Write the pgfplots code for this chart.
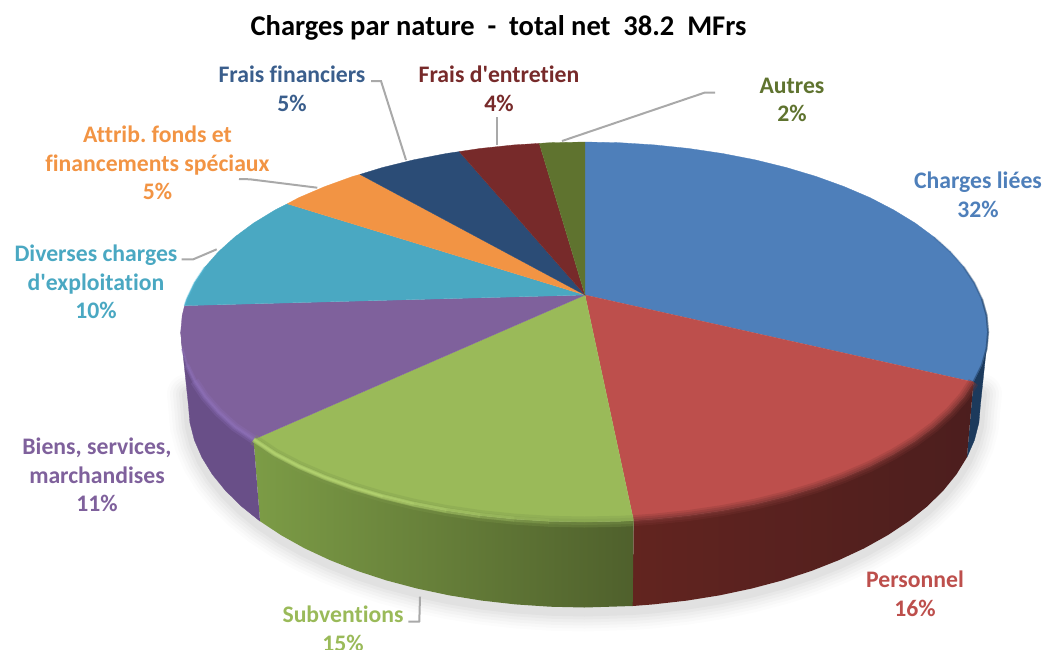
\documentclass[border=0pt]{standalone}
\usepackage{fontspec}
\setmainfont{Carlito}[Ligatures={TeXOff,NoCommon}]
\usepackage{pgfplots}
\usepackage{pgfplotstable}
\pgfplotsset{compat=1.18}
\definecolor{cblue}{HTML}{4E7FBA}
\definecolor{cred}{HTML}{BD4F4C}
\definecolor{cgreen}{HTML}{9ABA59}
\definecolor{cpurple}{HTML}{7F619C}
\definecolor{cteal}{HTML}{4AA8C2}
\definecolor{corange}{HTML}{F29444}
\definecolor{cnavy}{HTML}{2B4C76}
\definecolor{cdred}{HTML}{772A2A}
\definecolor{colive}{HTML}{5F732F}
\definecolor{lead}{HTML}{A9A9A9}
\definecolor{sblue}{HTML}{1C3A5C}
\definecolor{spurple}{HTML}{694F88}
\definecolor{sgreenA}{HTML}{7C9C46}
\definecolor{sgreenB}{HTML}{6A853D}
\definecolor{sgreenC}{HTML}{4F602C}
\definecolor{sredA}{HTML}{62241F}
\definecolor{sredB}{HTML}{4C1E1E}
\definecolor{rlime}{HTML}{C2E27A}
\definecolor{rmid}{HTML}{7F9A4C}
\definecolor{rred}{HTML}{7E3634}
\definecolor{rpurple}{HTML}{8F72BC}
\definecolor{rteal}{HTML}{52BEDC}
\definecolor{tnavyl}{HTML}{3A5E8C}
\tikzset{lbl/.style={font=\fontsize{23.7}{28.7}\selectfont\bfseries,align=center,anchor=center,inner sep=0pt}}
% top surface slices: first row is the apex
\pgfplotstableread{
x y
585 295
585 142
619.6 142.7
654.5 144.9
688.9 148.5
722.5 153.5
755 159.8
786.3 167.5
816 176.4
843.9 186.5
869.9 197.6
893.6 209.9
915.1 223
934 237
950.3 251.7
963.8 267
974.3 282.8
982 299
986.6 315.4
988.1 332
986.6 348.6
982 365
973.5 382
}\tblue
\pgfplotstableread{
x y
585 295
973.5 382
963.8 397
950.3 412.3
934 427
915.1 441
893.6 454.1
869.9 466.4
843.9 477.5
816 487.6
786.3 496.5
755 504.2
722.5 510.5
688.9 515.5
654.5 519.1
633.6 520.6
}\tred
\pgfplotstableread{
x y
585 295
633.6 520.6
619.6 521.3
584.4 522
549.2 521.3
514.3 519.1
479.9 515.5
446.3 510.5
413.8 504.2
382.5 496.5
352.8 487.6
324.9 477.5
298.9 466.4
275.2 454.1
253.5 439.5
}\tgreen
\pgfplotstableread{
x y
585 295
253.5 439.5
234.8 427
218.5 412.3
205 397
194.5 381.2
186.8 365
182.2 348.6
180.7 332
182.2 315.4
184.6 305.6
}\tpurple
\pgfplotstableread{
x y
585 295
184.6 305.6
186.8 299
194.5 282.8
205 267
218.5 251.7
234.8 237
253.7 223
275.2 209.9
287.3 203.8
}\tteal
\pgfplotstableread{
x y
585 295
287.3 203.8
298.9 197.6
324.9 186.5
352.8 176.4
360 174.4
}\torange
\pgfplotstableread{
x y
585 295
360 174.4
382.5 167.5
413.8 159.8
446.3 153.5
459.3 151.6
}\tnavy
\pgfplotstableread{
x y
585 295
459.3 151.6
479.9 148.5
514.3 144.9
539.3 143.4
}\tdred
\pgfplotstableread{
x y
585 295
539.3 143.4
549.2 142.7
585 142
}\tolive
% side walls
\pgfplotstableread{
x y
973.5 382
982 365
986.6 348.6
988.1 332
980.4 405
978.9 422.7
974.4 440.2
966.9 457.4
}\sblue
\pgfplotstableread{
x y
973.5 382
963.8 397
950.3 412.3
934 427
915.1 441
893.6 454.1
869.9 466.4
843.9 477.5
816 487.6
786.3 496.5
755 504.2
722.5 510.5
688.9 515.5
654.5 519.1
633.6 520.6
632.7 606
653.1 604.4
686.9 600.6
719.8 595.3
751.8 588.5
782.4 580.4
811.5 570.9
838.9 560.1
864.4 548.2
887.7 535.2
908.8 521.2
927.3 506.3
943.3 490.6
956.5 474.3
966.9 457.4
}\sred
\pgfplotstableread{
x y
633.6 520.6
619.6 521.3
584.4 522
549.2 521.3
514.3 519.1
479.9 515.5
446.3 510.5
413.8 504.2
382.5 496.5
352.8 487.6
324.9 477.5
298.9 466.4
275.2 454.1
253.5 439.5
260 521.2
281.1 535.2
304.4 548.2
329.9 560.1
357.3 570.9
386.4 580.4
417 588.5
449 595.3
481.9 600.6
515.6 604.4
549.9 606.7
584.4 607.5
632.7 606
}\sgreen
\pgfplotstableread{
x y
253.5 439.5
234.8 427
218.5 412.3
205 397
194.5 381.2
186.8 365
182.2 348.6
180.7 332
188.4 405
189.9 422.7
194.4 440.2
201.9 457.4
212.3 474.3
225.5 490.6
241.5 506.3
260 521.2
}\spurple
% outline of the underside, for the soft shadow
\pgfplotstableread{
x y
187 390
188.4 405
189.9 422.7
194.4 440.2
201.9 457.4
212.3 474.3
225.5 490.6
241.5 506.3
260 521.2
281.1 535.2
304.4 548.2
329.9 560.1
357.3 570.9
386.4 580.4
417 588.5
449 595.3
481.9 600.6
515.6 604.4
549.9 606.7
584.4 607.5
632.7 606
653.1 604.4
686.9 600.6
719.8 595.3
751.8 588.5
782.4 580.4
811.5 570.9
838.9 560.1
864.4 548.2
887.7 535.2
908.8 521.2
927.3 506.3
943.3 490.6
956.5 474.3
966.9 457.4
974.4 440.2
978.9 422.7
980.4 405
982 390
}\sshadow
\begin{document}
\begin{tikzpicture}
\clip (0,0) rectangle (1045pt,649pt);
\begin{axis}[at={(0,0)},anchor=south west,scale only axis,hide axis,
  x=1pt,y=1pt,y dir=reverse,xmin=0,xmax=1045,ymin=0,ymax=649,clip=false,
  every axis plot/.append style={line join=round,line cap=butt},
  noapex/.style={skip coords between index={0}{1}},
  wall/.style={draw=none,shade},
  rim/.style={fill=none,draw=#1},
  shad/.style={draw=black,fill=none,line cap=round,yshift=-4pt}]
% shadow
\addplot[shad,line width=40pt,opacity=0.012] table {\sshadow};
\addplot[shad,line width=34pt,opacity=0.015] table {\sshadow};
\addplot[shad,line width=28pt,opacity=0.018] table {\sshadow};
\addplot[shad,line width=22pt,opacity=0.02] table {\sshadow};
\addplot[shad,line width=16pt,opacity=0.025] table {\sshadow};
\addplot[shad,line width=10pt,opacity=0.03] table {\sshadow};
% side walls
\addplot[draw=sblue,line width=.3pt,fill=sblue] table {\sblue};
\addplot[wall,left color=sredA,right color=sredB] table {\sred};
\addplot[wall,left color=sgreenA,middle color=sgreenB,right color=sgreenC] table {\sgreen};
\addplot[draw=spurple,line width=.3pt,fill=spurple] table {\spurple};
% top slices
\addplot[draw=cblue,line width=.3pt,fill=cblue] table {\tblue};
\addplot[draw=cred,line width=.3pt,fill=cred] table {\tred};
\addplot[draw=cgreen,line width=.3pt,fill=cgreen] table {\tgreen};
\addplot[draw=cpurple,line width=.3pt,fill=cpurple] table {\tpurple};
\addplot[draw=cteal,line width=.3pt,fill=cteal] table {\tteal};
\addplot[draw=corange,line width=.3pt,fill=corange] table {\torange};
\addplot[draw=cnavy,line width=.3pt,fill=cnavy] table {\tnavy};
\addplot[draw=cdred,line width=.3pt,fill=cdred] table {\tdred};
\addplot[draw=colive,line width=.3pt,fill=colive] table {\tolive};
% bevelled rim: blue
\addplot[rim=sblue,line width=2pt,opacity=.15,skip coords between index={0}{13}] table {\tblue};
\addplot[rim=sblue,line width=2pt,opacity=.2,skip coords between index={0}{15}] table {\tblue};
\addplot[rim=sblue,line width=2pt,opacity=.3,skip coords between index={0}{17}] table {\tblue};
% red
\addplot[rim=rred,line width=11pt,opacity=.25,noapex] table {\tred};
\addplot[rim=rred,line width=7pt,opacity=.35,noapex] table {\tred};
\addplot[rim=rred,line width=3pt,opacity=.5,noapex] table {\tred};
% green
\addplot[rim=rmid,line width=11pt,opacity=.3,noapex] table {\tgreen};
\addplot[rim=rmid,line width=6pt,opacity=.3,noapex] table {\tgreen};
\addplot[rim=rlime,line width=5pt,opacity=.12,skip coords between index={0}{4}] table {\tgreen};
\addplot[rim=rlime,line width=5pt,opacity=.12,skip coords between index={0}{5}] table {\tgreen};
\addplot[rim=rlime,line width=5pt,opacity=.14,skip coords between index={0}{6}] table {\tgreen};
\addplot[rim=rlime,line width=4pt,opacity=.18,skip coords between index={0}{7}] table {\tgreen};
\addplot[rim=rlime,line width=3pt,opacity=.22,skip coords between index={0}{8}] table {\tgreen};
\addplot[rim=rlime,line width=2pt,opacity=.3,skip coords between index={0}{9}] table {\tgreen};
% purple and teal
\addplot[rim=rpurple,line width=9pt,opacity=.25,noapex,skip coords between index={6}{11}] table {\tpurple};
\addplot[rim=rpurple,line width=5pt,opacity=.35,noapex,skip coords between index={7}{11}] table {\tpurple};
\addplot[rim=rpurple,line width=2.5pt,opacity=.4,noapex,skip coords between index={8}{11}] table {\tpurple};
\addplot[rim=rteal,line width=2pt,opacity=.4,noapex,skip coords between index={5}{10}] table {\tteal};
% leader lines
\addplot[draw=lead,line width=2pt,line join=miter] coordinates {(371,81) (381,81) (406,160)};
\addplot[draw=lead,line width=2pt] coordinates {(497,117) (497,145)};
\addplot[draw=lead,line width=2pt] coordinates {(715,92.5) (705,92.5) (562,141)};
\addplot[draw=lead,line width=2pt] coordinates {(239,179) (250,179.3) (317.3,187.7)};
\addplot[draw=lead,line width=2pt] coordinates {(181.7,259.3) (193.3,259.3) (216.7,249.3)};
\addplot[draw=lead,line width=2pt] coordinates {(408.3,621.7) (419.3,621.7) (420,596.7)};
% texts
\node[anchor=center,inner sep=0pt,font=\fontsize{28.5}{32}\selectfont\bfseries,text=black] at (axis cs:498.5,28) {Charges par nature\ \ -\ \ total net\ \ 38.2\ \ MFrs};
\node[lbl,text=tnavyl] at (axis cs:292,89) {Frais financiers\\5\%};
\node[lbl,text=cdred] at (axis cs:499,89) {Frais d'entretien\\4\%};
\node[lbl,text=colive] at (axis cs:792,100) {Autres\\2\%};
\node[lbl,text=corange] at (axis cs:157.5,163) {Attrib.\ fonds et\\financements spéciaux\\5\%};
\node[lbl,text=cblue] at (axis cs:978,195) {Charges liées\\32\%};
\node[lbl,text=cteal] at (axis cs:96,282) {Diverses charges\\d'exploitation\\10\%};
\node[lbl,text=cpurple] at (axis cs:97,475) {Biens, services,\\marchandises\\11\%};
\node[lbl,text=cred] at (axis cs:915,594) {Personnel\\16\%};
\node[lbl,text=cgreen] at (axis cs:343,629) {Subventions\\15\%};
\end{axis}
\end{tikzpicture}
\end{document}
